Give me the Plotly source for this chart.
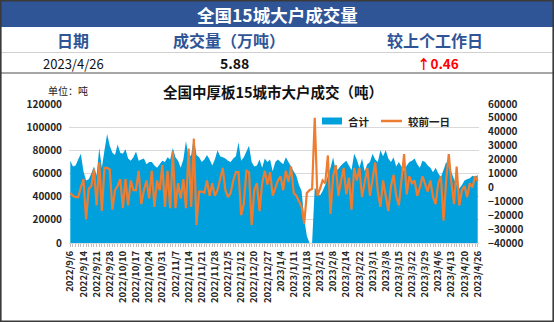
import plotly.graph_objects as go

# ---------------- data ----------------
total = [
    71000, 66000, 67000, 72000, 77000, 62000, 54000, 55000, 60000, 66000,
    58000, 82000, 65000, 80000, 94000, 84000, 78000, 76000, 85000, 78000,
    77000, 81000, 73000, 71000, 74000, 79000, 71000, 72000, 73000, 68000,
    70000, 70000, 67000, 65000, 68000, 71000, 70000, 74000, 72000, 82000,
    74000, 71000, 65000, 72000, 88000, 74000, 76000, 91000, 76000, 74000,
    70000, 72000, 76000, 72000, 67000, 72000, 80000, 75000, 74000, 73000,
    71000, 70000, 73000, 75000, 87000, 71000, 74000, 79000, 84000, 70000,
    66000, 67000, 72000, 65000, 73000, 70000, 72000, 62000, 70000, 72000,
    70000, 68000, 74000, 70000, 66000, 62000, 58000, 50000, 45000, 21000,
    6000, 0, 0, 48000, 44000, 41000, 45000, 50000, 58000, 65000,
    74000, 62000, 64000, 67000, 69000, 71000, 67000, 63000, 77000, 72000,
    65000, 73000, 62000, 68000, 70000, 77000, 72000, 70000, 80000, 75000,
    80000, 73000, 70000, 74000, 66000, 70000, 66000, 62000, 67000, 70000,
    71000, 73000, 68000, 65000, 71000, 70000, 67000, 65000, 61000, 65000,
    60000, 57000, 63000, 70000, 66000, 61000, 55000, 50000, 47000, 50000,
    54000, 55000, 56000, 58000, 57000, 58800,
]

change = [
    -4000, -6000, -7000, -7000, 0, 6000, -23000, -1000, 1000, 13000,
    -13000, 18000, -17000, 14000, 14000, 13000, -16000, -2000, 1000, 6000,
    -15000, 6000, -13000, 5000, -2000, -2000, 12000, -12000, -2000, 5000,
    -8000, 12000, -14000, 5000, -2000, 16000, -14000, 12000, -15000, 26000,
    -15000, 3000, -8000, 6000, -15000, 28000, -14000, 35000, -27000, -3000,
    -3000, -4000, 5000, -6000, 3000, -6000, -2000, 6000, 14000, -2000,
    -7000, -4000, 5000, 11000, 11000, -20000, -12000, 12000, 11000, -27000,
    -2000, 3000, -17000, 3000, 12000, 2000, 11000, -6000, 0, 5000,
    8000, -2000, 12000, 4000, 15000, -4000, -6000, -10000, -14000, -26000,
    -4000, -2000, -1000, 50000, -6000, -1000, 5000, 3000, 23000, -19000,
    8000, 16000, -6000, 5000, 14000, -5000, 7000, -16000, 14000, 5000,
    14000, -7000, 5000, 14000, -6000, 5000, 18000, -3000, -14000, 5000,
    -7000, -17000, 1000, 9000, -6000, -13000, 5000, 24000, -5000, 8000,
    3000, 5000, -6000, 0, 8000, 3000, -3000, 5000, -7000, -12000,
    3000, 8000, -24000, 5000, 24000, 3000, -12000, 15000, -13000, -2000,
    1000, -7000, 3000, 0, 8000, 4600,
]

tick_labels = [
    "2022/9/6", "2022/9/14", "2022/9/21", "2022/9/28", "2022/10/10", "2022/10/17",
    "2022/10/24", "2022/10/31", "2022/11/7", "2022/11/14", "2022/11/21", "2022/11/28",
    "2022/12/5", "2022/12/12", "2022/12/20", "2022/12/27", "2023/1/4", "2023/1/11",
    "2023/1/18", "2023/2/1", "2023/2/8", "2023/2/14", "2023/2/22", "2023/3/1",
    "2023/3/8", "2023/3/15", "2023/3/22", "2023/3/29", "2023/4/6", "2023/4/13",
    "2023/4/20", "2023/4/26",
]
label_step = 5

header_cols = ["日期", "成交量（万吨）", "较上个工作日"]
latest_date = "2023/4/26"
latest_volume = "5.88"
latest_change = "↑0.46"

series_names = ["合计", "较前一日"]

# ---------------- layout helpers ----------------
W, H = 554, 322
ML, MR, MT, MB = 69, 75, 104, 79
PW, PH = W - ML - MR, H - MT - MB
FONT = "Noto Sans CJK SC"
BLUE = "#00A0DC"
ORANGE = "#ED7D31"
NAVY = "#2F5597"


def px(x):
    return (x - ML) / PW


def py(y):
    return (H - MB - y) / PH


n = len(total)
idx = list(range(n))

fig = go.Figure()
fig.add_trace(go.Scatter(
    x=idx, y=total, name=series_names[0], mode="none", fill="tozeroy",
    fillcolor=BLUE, showlegend=False, hoverinfo="skip",
))
fig.add_trace(go.Scatter(
    x=idx, y=change, name=series_names[1], yaxis="y2", mode="lines",
    line=dict(color=ORANGE, width=2.2), showlegend=False, hoverinfo="skip",
))

shapes = []
annotations = []

# header table
shapes.append(dict(type="rect", xref="paper", yref="paper", x0=px(0), x1=px(W),
                   y0=py(27), y1=py(0), fillcolor=NAVY, line=dict(width=0), layer="below"))
shapes.append(dict(type="line", xref="paper", yref="paper", x0=px(0), x1=px(W),
                   y0=py(52.5), y1=py(52.5), line=dict(color="#D0D0D0", width=1)))
shapes.append(dict(type="line", xref="paper", yref="paper", x0=px(0), x1=px(W),
                   y0=py(73), y1=py(73), line=dict(color="#A6A6A6", width=2)))
# outer border
shapes.append(dict(type="rect", xref="paper", yref="paper", x0=px(0.8), x1=px(W - 0.8),
                   y0=py(H - 0.8), y1=py(0.8), line=dict(color="#3A3A3A", width=1.6)))

annotations.append(dict(text="<b>全国15城大户成交量</b>", x=px(277), y=py(14), xref="paper", yref="paper",
                        showarrow=False, font=dict(family=FONT, size=17.5, color="white"),
                        xanchor="center", yanchor="middle"))
for cx, t in zip([73, 229, 435], header_cols):
    annotations.append(dict(text="<b>%s</b>" % t, x=px(cx), y=py(40), xref="paper", yref="paper",
                            showarrow=False, font=dict(family=FONT, size=16, color=NAVY),
                            xanchor="center", yanchor="middle"))
annotations.append(dict(text=latest_date, x=px(73), y=py(63), xref="paper", yref="paper",
                        showarrow=False, font=dict(family=FONT, size=13, color="#111"),
                        xanchor="center", yanchor="middle"))
annotations.append(dict(text="<b>%s</b>" % latest_volume, x=px(234), y=py(63), xref="paper", yref="paper",
                        showarrow=False, font=dict(family=FONT, size=14, color="#111"),
                        xanchor="center", yanchor="middle"))
annotations.append(dict(text="<b>%s</b>" % latest_change, x=px(438), y=py(63), xref="paper", yref="paper",
                        showarrow=False, font=dict(family=FONT, size=13.5, color="#FF0000"),
                        xanchor="center", yanchor="middle"))

# chart title and unit
annotations.append(dict(text="<b>全国中厚板15城市大户成交（吨）</b>", x=px(273), y=py(91.5), xref="paper",
                        yref="paper", showarrow=False, font=dict(family=FONT, size=14.5, color="#111"),
                        xanchor="center", yanchor="middle"))
annotations.append(dict(text="单位：吨", x=px(46), y=py(90), xref="paper", yref="paper",
                        showarrow=False, font=dict(family=FONT, size=10, color="#222"),
                        xanchor="left", yanchor="middle"))

# legend (drawn)
shapes.append(dict(type="rect", xref="paper", yref="paper", x0=px(322), x1=px(342),
                   y0=py(124.5), y1=py(117.5), fillcolor=BLUE, line=dict(width=0)))
annotations.append(dict(text="<b>%s</b>" % series_names[0], x=px(346), y=py(121), xref="paper", yref="paper",
                        showarrow=False, font=dict(family=FONT, size=10.5, color="#222"),
                        xanchor="left", yanchor="middle"))
shapes.append(dict(type="line", xref="paper", yref="paper", x0=px(381), x1=px(402),
                   y0=py(121), y1=py(121), line=dict(color=ORANGE, width=2.5)))
annotations.append(dict(text="<b>%s</b>" % series_names[1], x=px(406), y=py(121), xref="paper", yref="paper",
                        showarrow=False, font=dict(family=FONT, size=10.5, color="#222"),
                        xanchor="left", yanchor="middle"))

axis_font = dict(family=FONT, size=10, color="#262626", weight="bold")

fig.update_layout(
    width=W, height=H,
    margin=dict(l=ML, r=MR, t=MT, b=MB, pad=0),
    paper_bgcolor="white", plot_bgcolor="white",
    font=dict(family=FONT),
    shapes=shapes, annotations=annotations,
    xaxis=dict(
        range=[-0.5, n - 0.5],
        tickmode="array",
        tickvals=[i * label_step for i in range(len(tick_labels))],
        ticktext=tick_labels,
        tickangle=-90,
        tickfont=dict(family=FONT, size=9.5, color="#262626", weight="bold"),
        ticks="outside", ticklen=3, tickcolor="#BFBFBF",
        minor=dict(tickmode="linear", tick0=0, dtick=1, ticks="outside", ticklen=3,
                   tickcolor="#BFBFBF", showgrid=False),
        showgrid=False, zeroline=False,
        showline=True, linecolor="#D9D9D9", linewidth=1,
        fixedrange=True,
    ),
    yaxis=dict(
        range=[0, 120000], tickmode="linear", tick0=0, dtick=20000,
        tickformat="d", tickfont=axis_font,
        showgrid=True, gridcolor="#D9D9D9", gridwidth=1,
        zeroline=False, showline=False, ticks="", ticklabelstandoff=6,
    ),
    yaxis2=dict(
        range=[-40000, 60000], tickmode="linear", tick0=-40000, dtick=10000,
        tickformat="d", tickfont=axis_font, overlaying="y", side="right",
        showgrid=False, zeroline=False, showline=False, ticks="", ticklabelstandoff=8,
    ),
)

fig.write_html("out.html")
